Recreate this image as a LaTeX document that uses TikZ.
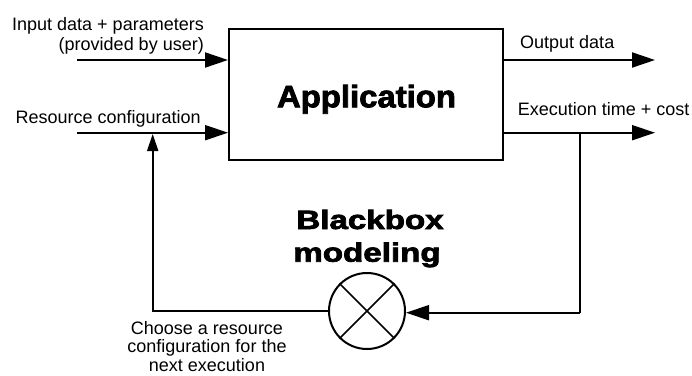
\documentclass[tikz,border=0pt]{standalone}
\usepackage{fontspec}
\setmainfont{Liberation Sans}
\newfontfamily\heavyfont[FakeBold=2.5]{Liberation Sans Bold}
\usetikzlibrary{arrows.meta}
\tikzset{
  lbl/.style={inner sep=0pt, font=\fontsize{18}{20}\selectfont},
  conn/.style={line width=2pt},
  bigarrow/.style={conn, -{Triangle[length=23pt,width=15pt]}},
  smallarrow/.style={conn, -{Triangle[length=17pt,width=11pt]}},
  appbox/.style={draw, line width=2pt, minimum width=274pt, minimum height=131pt, inner sep=0pt},
  mixer/.style={draw, circle, line width=2pt, minimum size=76pt, inner sep=0pt},
}
\begin{document}
\begin{tikzpicture}[x=1pt,y=-1pt]
\useasboundingbox (0,0) rectangle (692,375);
% main box
\node[appbox] (app) at (366,94.5) {};
\node[inner sep=0pt, font=\heavyfont\fontsize{31}{33}\selectfont, anchor=base] (apptxt) at (366.5,107.3) {\scalebox{1.06}[1]{Application}};
% input arrows
\coordinate (inA) at (77,60);
\coordinate (inB) at (77,132.7);
\draw[bigarrow] (inA) -- (inA -| app.west);
\draw[bigarrow] (inB) -- (inB -| app.west);
\node[lbl, anchor=base east] (in1) at (204,30.5) {Input data + parameters};
\node[lbl, anchor=base east] (in2) at (204,50) {(provided by user)};
\node[lbl, anchor=base east] (res) at (201,123.3) {Resource configuration};
% outputs
\coordinate (outA) at (655,60);
\coordinate (outB) at (655,132.7);
\draw[bigarrow] (outA -| app.east) -- (outA);
\draw[bigarrow] (outB -| app.east) -- (outB);
\node[lbl, anchor=base west] (outlbl) at (520,48.3) {Output data};
\node[lbl, anchor=base west] (execlbl) at (517.7,115) {Execution time + cost};
% mixer
\node[mixer] (mix) at (367,311) {};
\draw[line width=1.6pt] (mix.north west) -- (mix.south east);
\draw[line width=1.6pt] (mix.north east) -- (mix.south west);
\node[inner sep=0pt, font=\heavyfont\fontsize{26.5}{33}\selectfont, anchor=base] (bb1) at (370,229) {\scalebox{1.25}[1]{Blackbox}};
\node[inner sep=0pt, font=\heavyfont\fontsize{26.5}{33}\selectfont, anchor=base] (bb2) at (367,261.7) {\scalebox{1.25}[1]{modeling}};
% feedback
\coordinate (tap) at (580,132.7);
\coordinate (tapdown) at (580,312.7);
\coordinate (leftdown) at (152.7,311);
\coordinate (leftup) at (152.7,134);
\draw[conn] (tap) -- (tapdown);
\draw[bigarrow] (tapdown) -- (tapdown -| mix.east);
\draw[smallarrow] (mix.west |- leftdown) -- (leftdown) -- (leftup);
\node[lbl, anchor=base] (ch1) at (207,334) {Choose a resource};
\node[lbl, anchor=base] (ch2) at (207,352.5) {configuration for the};
\node[lbl, anchor=base] (ch3) at (207,371) {next execution};
\end{tikzpicture}
\end{document}
